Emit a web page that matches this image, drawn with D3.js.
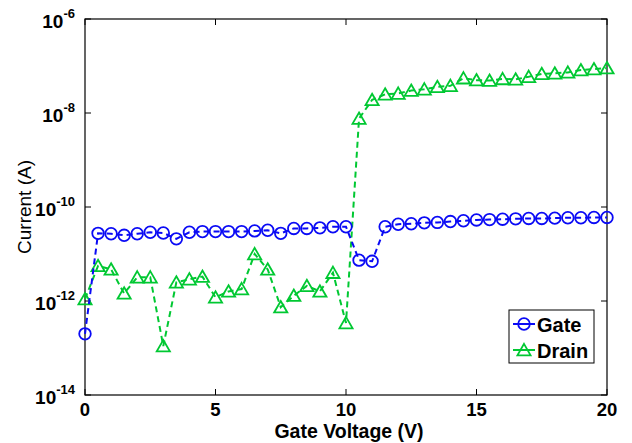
<!DOCTYPE html>
<html>
<head>
<meta charset="utf-8">
<script src="https://cdn.jsdelivr.net/npm/d3@7"></script>
<style>
  body { margin: 0; background: #fff; }
  text { font-family: "Liberation Sans", Arial, sans-serif; }
</style>
</head>
<body>
<svg class="chart" width="632" height="443"></svg>
<script>
// gate voltage steps (V)
var voltage = [0, 0.5, 1, 1.5, 2, 2.5, 3, 3.5, 4, 4.5, 5, 5.5, 6, 6.5, 7, 7.5, 8, 8.5, 9, 9.5,
    10, 10.5, 11, 11.5, 12, 12.5, 13, 13.5, 14, 14.5, 15, 15.5, 16, 16.5, 17, 17.5, 18, 18.5, 19, 19.5, 20];

// currents (A)
var gateCurrent = [2e-13, 2.75e-11, 2.7e-11, 2.5e-11, 2.7e-11, 2.9e-11, 2.8e-11, 2.1e-11, 2.9e-11, 3e-11,
    3e-11, 3e-11, 3e-11, 3.1e-11, 3.2e-11, 2.75e-11, 3.5e-11, 3.5e-11, 3.6e-11, 3.8e-11,
    3.8e-11, 7.4e-12, 7e-12, 3.8e-11, 4.3e-11, 4.4e-11, 4.6e-11, 4.7e-11, 4.9e-11, 5.1e-11,
    5.3e-11, 5.4e-11, 5.5e-11, 5.6e-11, 5.7e-11, 5.7e-11, 5.8e-11, 5.9e-11, 5.9e-11, 6e-11, 6e-11];

var drainCurrent = [1.1e-12, 5.6e-12, 4.7e-12, 1.45e-12, 3.2e-12, 3.2e-12, 1.1e-13, 2.5e-12, 2.9e-12, 3.3e-12,
    1.2e-12, 1.6e-12, 1.8e-12, 1e-11, 4.7e-12, 7.4e-13, 1.3e-12, 2.1e-12, 1.6e-12, 4e-12,
    3.4e-13, 7.6e-9, 1.9e-8, 2.5e-8, 2.6e-8, 3e-8, 3.2e-8, 3.6e-8, 3.8e-8, 5.5e-8,
    5e-8, 4.9e-8, 5.3e-8, 5.2e-8, 5.9e-8, 6.8e-8, 7e-8, 7.3e-8, 8.2e-8, 8.6e-8, 9e-8];

var xTicks = [0, 5, 10, 15, 20];
var yTicks = [1e-14, 1e-12, 1e-10, 1e-8, 1e-6];
var seriesNames = ["Gate", "Drain"];

var blue = "#0a0af5", green = "#00c832";

var margin = {left: 85, top: 19, right: 25, bottom: 48};
var W = 632 - margin.left - margin.right;
var H = 443 - margin.top - margin.bottom;

var x = d3.scaleLinear().domain([0, 20]).range([0, W]);
var y = d3.scaleLog().domain([1e-14, 1e-6]).range([H, 0]);

var svg = d3.select("svg.chart");
var g = svg.append("g").attr("transform", `translate(${margin.left},${margin.top})`);

// box
g.append("rect").attr("width", W).attr("height", H)
    .attr("fill", "none").attr("stroke", "#000").attr("stroke-width", 1.2);

// ticks inside on all four sides
xTicks.forEach(function(t){
    g.append("line").attr("x1", x(t)).attr("x2", x(t)).attr("y1", H).attr("y2", H - 6).attr("stroke", "#000");
    g.append("line").attr("x1", x(t)).attr("x2", x(t)).attr("y1", 0).attr("y2", 6).attr("stroke", "#000");
    g.append("text").attr("x", x(t)).attr("y", H + 21)
        .attr("text-anchor", "middle").attr("font-size", 18.5).attr("font-weight", "bold")
        .text(t);
});
yTicks.forEach(function(t){
    g.append("line").attr("x1", 0).attr("x2", 6).attr("y1", y(t)).attr("y2", y(t)).attr("stroke", "#000");
    g.append("line").attr("x1", W).attr("x2", W - 6).attr("y1", y(t)).attr("y2", y(t)).attr("stroke", "#000");
    var lbl = g.append("text").attr("x", -10).attr("y", y(t) + 9)
        .attr("text-anchor", "end").attr("font-size", 19).attr("font-weight", "bold");
    lbl.append("tspan").text("10");
    lbl.append("tspan").attr("dy", -10).attr("font-size", 13).text(Math.round(Math.log10(t)));
});

// axis titles
g.append("text").attr("x", W / 2 + 3).attr("y", H + 42.5)
    .attr("text-anchor", "middle").attr("font-size", 19.5).attr("font-weight", "bold")
    .text("Gate Voltage (V)");
svg.append("text").attr("transform", "translate(31,207) rotate(-90)")
    .attr("text-anchor", "middle").attr("font-size", 19)
    .text("Current (A)");

// series
var line = d3.line().x(d => x(d[0])).y(d => y(d[1]));
var tri = d3.symbol().type(d3.symbolTriangle).size(75);

function drawSeries(vals, color, marker){
    var pts = voltage.map((v, i) => [v, vals[i]]);
    g.append("path").datum(pts).attr("d", line)
        .attr("fill", "none").attr("stroke", color).attr("stroke-width", 2)
        .attr("stroke-dasharray", "6,4");
    var m = g.selectAll(null).data(pts).enter().append("g")
        .attr("transform", d => `translate(${x(d[0])},${y(d[1])})`);
    marker(m, color);
}

function circleMarker(sel, color){
    sel.append("circle").attr("r", 5.8).attr("fill", "none")
        .attr("stroke", color).attr("stroke-width", 1.8);
}
function triMarker(sel, color){
    sel.append("path").attr("d", tri).attr("transform", "translate(0,1.5)").attr("fill", "none")
        .attr("stroke", color).attr("stroke-width", 1.8);
}

drawSeries(drainCurrent, green, triMarker);
drawSeries(gateCurrent, blue, circleMarker);

// legend
var lg = g.append("g").attr("transform", `translate(${W - 98},${H - 85})`);
lg.append("rect").attr("width", 85).attr("height", 53)
    .attr("fill", "#fff").attr("stroke", "#000").attr("stroke-width", 1);
[[blue, circleMarker], [green, triMarker]].forEach(function(s, i){
    var row = lg.append("g").attr("transform", `translate(0,${14 + i * 26})`);
    row.append("line").attr("x1", 4).attr("x2", 26).attr("stroke", s[0]).attr("stroke-width", 2);
    s[1](row.append("g").attr("transform", "translate(15,0)"), s[0]);
    row.append("text").attr("x", 28).attr("y", 8).attr("font-size", 20).attr("font-weight", "bold")
        .text(seriesNames[i]);
});
</script>
</body>
</html>
